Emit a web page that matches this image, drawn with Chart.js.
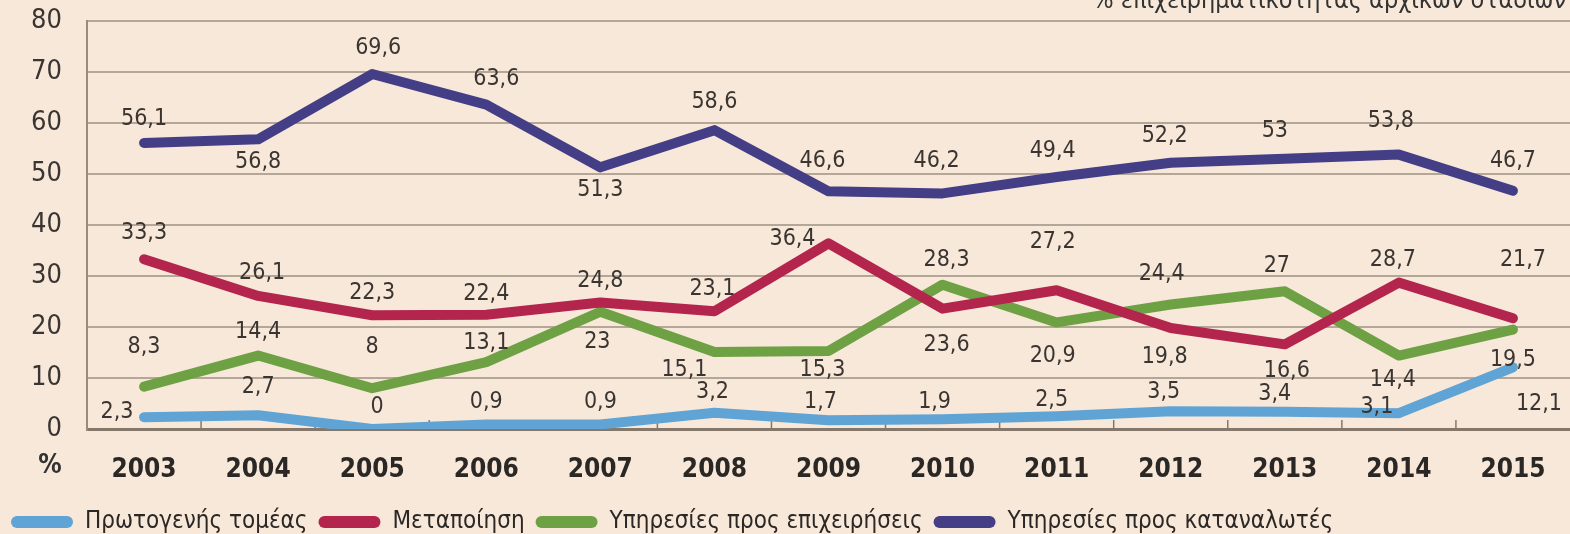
<!DOCTYPE html>
<html>
<head>
<meta charset="utf-8">
<script src="https://cdn.jsdelivr.net/npm/chart.js@4.4.0/dist/chart.umd.min.js"></script>
<style>
  html, body { margin: 0; padding: 0; background: #f7e8da; }
  #wrap { width: 1570px; height: 534px; }
</style>
</head>
<body>
<div id="wrap"><canvas id="chart"></canvas></div>
<script>
// data
const years = ['2003', '2004', '2005', '2006', '2007', '2008', '2009', '2010', '2011', '2012', '2013', '2014', '2015'];
const prwtogenis = [2.3, 2.7, 0, 0.9, 0.9, 3.2, 1.7, 1.9, 2.5, 3.5, 3.4, 3.1, 12.1];
const metapoiisi = [33.3, 26.1, 22.3, 22.4, 24.8, 23.1, 36.4, 23.6, 27.2, 19.8, 16.6, 28.7, 21.7];
const prosEpixeiriseis = [8.3, 14.4, 8, 13.1, 23, 15.1, 15.3, 28.3, 20.9, 24.4, 27, 14.4, 19.5];
const proskatanalotes = [56.1, 56.8, 69.6, 63.6, 51.3, 58.6, 46.6, 46.2, 49.4, 52.2, 53, 53.8, 46.7];
const yMin = 0, yMax = 80, yStep = 10;
const titleText = '% επιχειρηματικότητας αρχικών σταδίων';

// where each number sits relative to its point [dx, dy]
const offBlue = [[-27,-5],[0,-28],[5,-22],[0,-22],[0,-22],[-2,-21],[-8,-18],[-8,-17],[-5,-16],[-7,-19],[-10,-18],[-22,-6],[26,37]];
const offRed = [[0,-26],[4,-23],[0,-22],[0,-21],[0,-21],[-2,-22],[-36,-4],[4,36],[-4,-48],[-6,29],[2,27],[-6,-23],[10,-58]];
const offGreen = [[0,-40],[0,-24],[0,-41],[0,-19],[-3,30],[-30,18],[-6,19],[4,-25],[-4,34],[-9,-31],[-8,-25],[-6,24],[0,30]];
const offPurple = [[0,-24],[0,23],[6,-26],[10,-26],[0,23],[0,-28],[-6,-30],[-6,-32],[-4,-26],[-6,-27],[-10,-28],[-8,-34],[0,-30]];

const FONT = "'DejaVu Sans Condensed', 'DejaVu Sans', sans-serif";

// numbers on the lines
const pointLabels = {
  id: 'pointLabels',
  afterDatasetsDraw(chart) {
    const ctx = chart.ctx;
    ctx.save();
    ctx.font = '23px ' + FONT;
    ctx.fillStyle = '#3b3531';
    ctx.textAlign = 'center';
    ctx.textBaseline = 'middle';
    chart.data.datasets.forEach((ds, i) => {
      const meta = chart.getDatasetMeta(i);
      meta.data.forEach((pt, j) => {
        const o = ds.labelOffsets[j];
        const txt = String(ds.data[j]).replace('.', ',');
        ctx.fillText(txt, pt.x + o[0], pt.y + o[1]);
      });
    });
    ctx.restore();
  }
};

// background, small ticks between years, title and % sign
const extras = {
  id: 'extras',
  beforeDraw(chart) {
    const ctx = chart.ctx;
    ctx.save();
    ctx.fillStyle = '#f7e8da';
    ctx.fillRect(0, 0, chart.width, chart.height);
    ctx.restore();
  },
  beforeDatasetsDraw(chart) {
    const ctx = chart.ctx;
    const xs = chart.scales.x;
    const bottom = chart.chartArea.bottom;
    ctx.save();
    ctx.strokeStyle = '#85786b';
    ctx.lineWidth = 1.5;
    for (let i = 0; i < years.length - 1; i++) {
      const x = (xs.getPixelForTick(i) + xs.getPixelForTick(i + 1)) / 2;
      ctx.beginPath();
      ctx.moveTo(x, bottom - 9);
      ctx.lineTo(x, bottom);
      ctx.stroke();
    }
    ctx.restore();
  },
  afterDraw(chart) {
    const ctx = chart.ctx;
    ctx.save();
    ctx.fillStyle = '#333';
    ctx.font = '25px ' + FONT;
    ctx.textAlign = 'right';
    ctx.textBaseline = 'alphabetic';
    ctx.fillText(titleText, 1566, 8);
    ctx.font = 'bold 26px ' + FONT;
    ctx.textAlign = 'center';
    ctx.textBaseline = 'middle';
    ctx.fillText('%', 50, 466);
    ctx.restore();
  }
};

var ctx = document.getElementById('chart');
var chart = new Chart(ctx, {
  type: 'line',
  data: {
    labels: years,
    datasets: [{
      label: 'Πρωτογενής τομέας',
      data: prwtogenis,
      borderColor: '#5fa4d4',
      labelOffsets: offBlue
    }, {
      label: 'Μεταποίηση',
      data: metapoiisi,
      borderColor: '#b3254d',
      labelOffsets: offRed
    }, {
      label: 'Υπηρεσίες προς επιχειρήσεις',
      data: prosEpixeiriseis,
      borderColor: '#6ea143',
      labelOffsets: offGreen
    }, {
      label: 'Υπηρεσίες προς καταναλωτές',
      data: proskatanalotes,
      borderColor: '#433e85',
      labelOffsets: offPurple
    }]
  },
  options: {
    responsive: true,
    maintainAspectRatio: false,
    animation: false,
    devicePixelRatio: 1,
    layout: { padding: { top: 21, left: 0, right: 0, bottom: -10 } },
    elements: {
      line: { borderWidth: 10, tension: 0, borderCapStyle: 'round', borderJoinStyle: 'round' },
      point: { radius: 0, hoverRadius: 0 }
    },
    scales: {
      x: {
        offset: true,
        afterFit: s => { s.height = 70; },
        grid: { display: false },
        border: { display: true, color: '#85786b', width: 3 },
        ticks: {
          padding: 18,
          color: '#2b2724',
          font: { family: FONT, size: 26, weight: 'bold' }
        }
      },
      y: {
        min: yMin,
        max: yMax,
        afterFit: s => { s.width = 87; s.paddingTop = 0; s.paddingBottom = 0; },
        grid: {
          drawTicks: false,
          color: c => c.tick && c.tick.value === 0 ? '#85786b' : '#b5a797',
          lineWidth: c => c.tick && c.tick.value === 0 ? 3 : 2
        },
        border: { display: true, color: '#988b7d', width: 2 },
        ticks: {
          stepSize: yStep,
          padding: 25,
          color: '#3a3532',
          font: { family: FONT, size: 27 }
        }
      }
    },
    plugins: {
      tooltip: { enabled: false },
      legend: {
        position: 'bottom',
        align: 'start',
        labels: {
          boxWidth: 62,
          boxHeight: 12,
          useBorderRadius: true,
          borderRadius: 6,
          padding: 11,
          color: '#2b2724',
          font: { family: FONT, size: 24 },
          generateLabels: c => Chart.defaults.plugins.legend.labels.generateLabels(c).map(l => {
            l.fillStyle = l.strokeStyle;
            l.lineWidth = 0;
            return l;
          })
        }
      }
    }
  },
  plugins: [pointLabels, extras]
});
</script>
</body>
</html>
